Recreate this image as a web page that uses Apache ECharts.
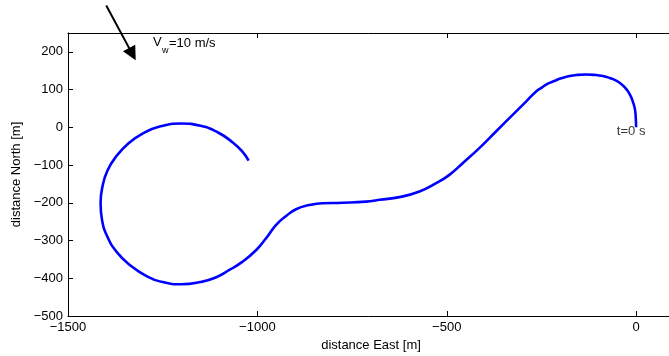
<!DOCTYPE html>
<html>
<head>
<meta charset="utf-8">
<script src="https://cdn.jsdelivr.net/npm/echarts@6/dist/echarts.min.js"></script>
<style>html,body{margin:0;padding:0;background:#fff;}#c{width:669px;height:356px;}</style>
</head>
<body>
<div id="c"></div>
<script>
// Trajectory (distance East, distance North) in metres, from t=0 s
const east = [0, -1, -3, -8, -15, -24, -37, -53, -70, -88, -110, -132, -155, -176, -198, -218, -233, -248, -264, -290, -326, -370, -414, -458, -493, -528, -572, -625, -678, -713, -775, -828, -863, -898, -924, -951, -977, -1003, -1039, -1074, -1110, -1150, -1201, -1250, -1295, -1335, -1370, -1396, -1410, -1414, -1409, -1396, -1372, -1340, -1302, -1258, -1201, -1150, -1105, -1065, -1040, -1023];
const north = [0, 25, 47, 66, 84, 99, 113, 124, 131, 136, 139, 140, 139, 136, 130, 122, 116, 106, 95, 69, 33, -11, -55, -95, -126, -148, -170, -185, -192, -197, -200, -201, -206, -217, -235, -259, -294, -325, -356, -378, -398, -410, -416, -410, -393, -366, -332, -290, -246, -201, -157, -115, -76, -42, -16, 2, 10, 4, -13, -40, -64, -88];
const xTicks = [-1500, -1000, -500, 0];
const yTicks = [-500, -400, -300, -200, -100, 0, 100, 200];
const windArrow = {fromEast: -1399, fromNorth: 323, toEast: -1330, toNorth: 194};
const startLabel = 't=0 s';

const FONT = 'Liberation Sans, Arial, Helvetica, sans-serif';
const fmt = v => (v < 0 ? '\u2212' + Math.abs(v) : String(v));
const path = east.map((e, i) => [e, north[i]]);

const chart = echarts.init(document.getElementById('c'), null, {renderer: 'canvas'});
const axisCommon = {
  axisLine: {show: true, onZero: false, lineStyle: {color: '#000', width: 1}},
  axisTick: {show: true, inside: true, length: 5, lineStyle: {color: '#000'}},
  splitLine: {show: false}
};
chart.setOption({
  animation: false,
  backgroundColor: '#fff',
  grid: {left: 68, right: -5, top: 33, bottom: 40, containLabel: false, outerBoundsMode: 'none'},
  xAxis: [
    Object.assign({}, axisCommon, {
      type: 'value', min: -1500, max: 100, interval: 500, position: 'bottom',
      name: 'distance East [m]', nameLocation: 'middle', nameGap: 21,
      nameTextStyle: {color: '#000', fontSize: 13, fontFamily: FONT},
      axisLabel: {color: '#000', fontSize: 13, fontFamily: FONT, margin: 5,
        formatter: v => (xTicks.indexOf(v) >= 0 ? fmt(v) : '')}
    }),
    Object.assign({}, axisCommon, {
      type: 'value', min: -1500, max: 100, interval: 500, position: 'top',
      axisLabel: {show: false}
    })
  ],
  yAxis: Object.assign({}, axisCommon, {
    type: 'value', min: -500, max: 250, interval: 100,
    name: 'distance North [m]', nameLocation: 'middle', nameGap: 34,
    nameTextStyle: {color: '#000', fontSize: 13, fontFamily: FONT},
    axisLabel: {color: '#000', fontSize: 13, fontFamily: FONT, margin: 5,
      formatter: v => (yTicks.indexOf(v) >= 0 ? fmt(v) : '')}
  }),
  series: [
    {
      type: 'line', data: path, smooth: 0.5, showSymbol: false, symbol: 'none',
      lineStyle: {color: '#0000ff', width: 2.6}, z: 3
    },
    {
      type: 'scatter', data: [[0, 0]], symbolSize: 0, silent: true, z: 5,
      label: {show: true, position: 'inside', offset: [-5, 4], formatter: startLabel,
        color: '#000', fontSize: 13, fontFamily: FONT}
    },
    {
      type: 'lines', coordinateSystem: 'cartesian2d', clip: false, silent: true, z: 6,
      symbol: ['none', 'triangle'], symbolSize: [10, 14],
      lineStyle: {color: '#000', width: 2, opacity: 1},
      data: [{coords: [[windArrow.fromEast, windArrow.fromNorth], [windArrow.toEast, windArrow.toNorth]]}]
    }
  ],
  graphic: [
    {type: 'text', left: 153, top: 36, style: {text: 'V', fill: '#000', fontSize: 13, fontFamily: FONT}},
    {type: 'text', left: 162, top: 46, style: {text: 'w', fill: '#000', fontSize: 9, fontFamily: FONT}},
    {type: 'text', left: 169, top: 37, style: {text: '=10 m/s', fill: '#000', fontSize: 13, fontFamily: FONT}}
  ]
});
</script>
</body>
</html>
